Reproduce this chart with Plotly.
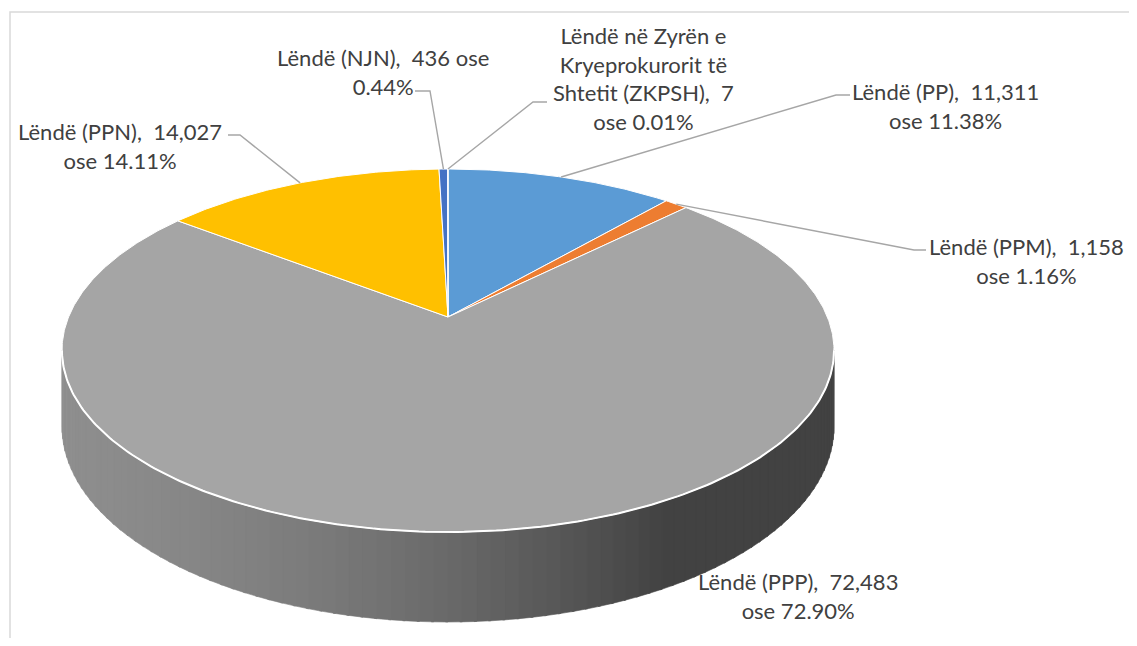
import numpy as np
import plotly.graph_objects as go

# ---- data ----
categories = ["Lëndë (PP)", "Lëndë (PPM)", "Lëndë (PPP)", "Lëndë (PPN)", "Lëndë (NJN)",
              "Lëndë në Zyrën e Kryeprokurorit të Shtetit (ZKPSH)"]
values = [11311, 1158, 72483, 14027, 436, 7]
percents = [11.38, 1.16, 72.90, 14.11, 0.44, 0.01]
colors = ["#5B9BD5", "#ED7D31", "#A5A5A5", "#FFC000", "#4472C4", "#70AD47"]
label_texts = [
    "Lëndë (PP),  11,311<br>ose 11.38%",
    "Lëndë (PPM),  1,158<br>ose 1.16%",
    "Lëndë (PPP),  72,483<br>ose 72.90%",
    "Lëndë (PPN),  14,027<br>ose 14.11%",
    "Lëndë (NJN),  436 ose<br>0.44%",
    "Lëndë në Zyrën e<br>Kryeprokurorit të<br>Shtetit (ZKPSH),  7<br>ose 0.01%",
]

# ---- layout / projection parameters (window pixel space) ----
WIN_W, WIN_H = 1137, 646
BODY = 8                   # default page margin around the figure
FIG_W, FIG_H = WIN_W - 2 * BODY, WIN_H - 2 * BODY
CX, CY = 448.0, 317.0      # pie apex
RX, RY = 379.4, 175.3      # projected radii
K = 0.1846                 # perspective factor
DEPTH = 73.4               # wall height

def proj(alpha_deg, base=False):
    a = np.radians(alpha_deg)
    xn, yn = np.sin(a), np.cos(a)
    s = 1.0 / (1.0 + K * yn)
    X = CX + RX * xn * s
    Y = CY - RY * yn * s + (DEPTH * s if base else 0.0)
    return X, Y

fig = go.Figure()

# ---- side wall (front), gradient strips ----
a_left = 90 + np.degrees(np.arcsin(K))
a_right = 270 - np.degrees(np.arcsin(K))
n_strips = 90
edges = np.linspace(a_left, a_right, n_strips + 1)
x_min, _ = proj(a_right)
x_max, _ = proj(a_left)

def wall_color(x):
    t = (x - x_min) / (x_max - x_min)
    t = min(max(t, 0), 1)
    u = min(t / 0.78, 1.0)
    v = 0x8E - (0x8E - 0x42) * (0.35 * u + 0.65 * u ** 2)
    v = int(round(v))
    return f"rgb({v},{v},{v})"

for i in range(n_strips):
    a0, a1 = edges[i], edges[i + 1] + 0.3 * (1 if i < n_strips - 1 else 0)
    aa = np.linspace(a0, a1, 4)
    xt, yt = proj(aa)
    xb, yb = proj(aa[::-1], base=True)
    xs = np.concatenate([xt, xb, xt[:1]])
    ys = np.concatenate([yt, yb, yt[:1]])
    col = wall_color(float(np.mean(xt)))
    fig.add_trace(go.Scatter(x=xs, y=ys, mode="lines", fill="toself", fillcolor=col,
                             line=dict(width=0.6, color=col), hoverinfo="skip", showlegend=False))

# ---- top slices ----
total = sum(values)
start = 0.0
mids = []
for v, c, name in zip(values, colors, categories):
    sweep = 360.0 * v / total
    aa = np.linspace(start, start + sweep, max(3, int(sweep * 2) + 2))
    xa, ya = proj(aa)
    xs = np.concatenate([[CX], xa, [CX]])
    ys = np.concatenate([[CY], ya, [CY]])
    fig.add_trace(go.Scatter(x=xs, y=ys, mode="lines", fill="toself", fillcolor=c,
                             line=dict(width=1, color="white"), name=name,
                             hoverinfo="name", showlegend=False))
    mids.append(start + sweep / 2)
    start += sweep

# white highlight between top and wall
aa = np.linspace(a_left, a_right, 200)
xa, ya = proj(aa)
fig.add_trace(go.Scatter(x=xa, y=ya, mode="lines", line=dict(width=2, color="white"),
                         hoverinfo="skip", showlegend=False))

# ---- leader lines & labels ----
label_pos = [(945, 106), (1026, 261), (798, 596), (120, 146), (383, 72), (643, 78)]
leader_stub = [((850, 95), (836, 95)), ((926, 250), (914, 250)), None,
               ((228, 135), (240, 135)), ((415, 91), (430, 91)), ((547, 102), (533, 102))]

for i, stub in enumerate(leader_stub):
    if stub is None:
        continue
    ax_, ay_ = proj(mids[i])
    fig.add_trace(go.Scatter(x=[stub[0][0], stub[1][0], float(ax_)],
                             y=[stub[0][1], stub[1][1], float(ay_)],
                             mode="lines", line=dict(width=1.4, color="#A6A6A6"),
                             hoverinfo="skip", showlegend=False))

for txt, (lx, ly) in zip(label_texts, label_pos):
    fig.add_annotation(x=lx, y=ly, text=txt, showarrow=False, align="center",
                       xanchor="center", yanchor="middle",
                       font=dict(family="Lato, Open Sans, sans-serif", size=22, color="#404040"))

# chart border: only left and top edges visible in the cropped reference
fig.add_shape(type="path", xref="x", yref="y",
              path=f"M 10 {BODY + FIG_H} L 10 12 L {BODY + FIG_W} 12",
              line=dict(color="#D9D9D9", width=1.5), layer="below")

fig.update_layout(
    width=FIG_W, height=FIG_H, autosize=False,
    margin=dict(l=0, r=0, t=0, b=0),
    paper_bgcolor="white", plot_bgcolor="white",
    xaxis=dict(range=[BODY, BODY + FIG_W], visible=False, fixedrange=True),
    yaxis=dict(range=[BODY + FIG_H, BODY], visible=False, fixedrange=True),
    showlegend=False,
)

fig.write_html("out.html")
